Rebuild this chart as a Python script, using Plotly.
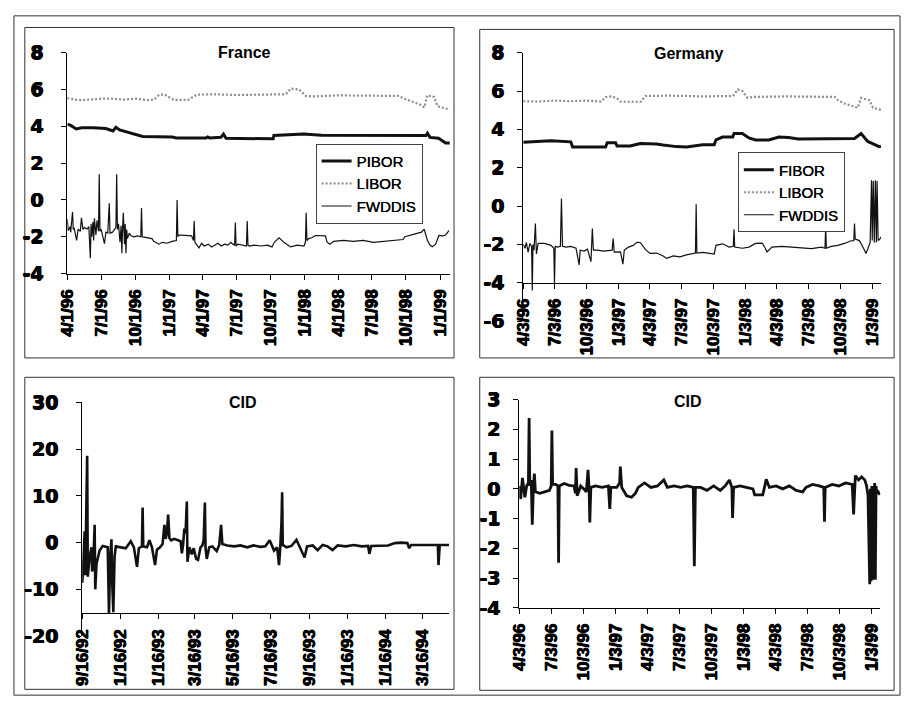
import plotly.graph_objects as go

W, H = 904, 711

# ---------------- tick labels ----------------
france_tickvals = ["1996-04-01", "1996-07-01", "1996-10-01", "1997-01-01", "1997-04-01",
                   "1997-07-01", "1997-10-01", "1998-01-01", "1998-04-01", "1998-07-01",
                   "1998-10-01", "1999-01-01"]
france_ticktext = ["4/1/96", "7/1/96", "10/1/96", "1/1/97", "4/1/97", "7/1/97",
                   "10/1/97", "1/1/98", "4/1/98", "7/1/98", "10/1/98", "1/1/99"]

germany_tickvals = ["1996-04-03", "1996-07-03", "1996-10-03", "1997-01-03", "1997-04-03",
                    "1997-07-03", "1997-10-03", "1998-01-03", "1998-04-03", "1998-07-03",
                    "1998-10-03", "1999-01-03"]
germany_ticktext = ["4/3/96", "7/3/96", "10/3/96", "1/3/97", "4/3/97", "7/3/97",
                    "10/3/97", "1/3/98", "4/3/98", "7/3/98", "10/3/98", "1/3/99"]

cid92_tickvals = ["1992-09-16", "1992-11-16", "1993-01-16", "1993-03-16", "1993-05-16",
                  "1993-07-16", "1993-09-16", "1993-11-16", "1994-01-16", "1994-03-16"]
cid92_ticktext = ["9/16/92", "1/16/92", "1/16/93", "3/16/93", "5/16/93",
                  "7/16/93", "9/16/93", "1/16/93", "1/16/94", "3/16/94"]

# ---------------- France ----------------
france_pibor = [
    ("1996-04-01", 4.12), ("1996-04-10", 4.05), ("1996-04-25", 3.86), ("1996-05-10", 3.92),
    ("1996-06-10", 3.92), ("1996-07-14", 3.88), ("1996-08-02", 3.75), ("1996-08-10", 3.95),
    ("1996-08-20", 3.8), ("1996-09-16", 3.65), ("1996-10-21", 3.45), ("1997-01-09", 3.42),
    ("1997-01-20", 3.37), ("1997-04-10", 3.37), ("1997-04-14", 3.42), ("1997-04-20", 3.37),
    ("1997-05-20", 3.4), ("1997-05-27", 3.58), ("1997-06-03", 3.35), ("1997-10-08", 3.32),
    ("1997-10-10", 3.5), ("1997-12-29", 3.58), ("1998-02-15", 3.52), ("1998-11-24", 3.5),
    ("1998-11-28", 3.62), ("1998-12-05", 3.4), ("1998-12-28", 3.35), ("1999-01-16", 3.1),
    ("1999-01-27", 3.1),
]
france_libor = [
    ("1996-04-01", 5.53), ("1996-05-01", 5.42), ("1996-06-01", 5.45), ("1996-07-01", 5.5),
    ("1996-08-01", 5.5), ("1996-09-01", 5.45), ("1996-10-01", 5.5), ("1996-11-01", 5.42),
    ("1996-11-21", 5.45), ("1996-12-05", 5.72), ("1996-12-20", 5.72), ("1997-01-04", 5.55),
    ("1997-01-13", 5.44), ("1997-02-21", 5.44), ("1997-03-16", 5.72), ("1997-05-01", 5.74),
    ("1997-07-01", 5.7), ("1997-09-01", 5.72), ("1997-11-11", 5.74), ("1997-11-25", 6.05),
    ("1997-12-17", 6.0), ("1998-01-04", 5.65), ("1998-01-21", 5.62), ("1998-04-01", 5.68),
    ("1998-07-01", 5.68), ("1998-09-10", 5.65), ("1998-09-27", 5.5), ("1998-10-24", 5.3),
    ("1998-11-08", 5.18), ("1998-11-20", 5.03), ("1998-11-27", 5.68), ("1998-12-16", 5.6),
    ("1998-12-25", 5.09), ("1999-01-10", 5.0), ("1999-01-27", 4.91),
]
france_fwddis = [
    ("1996-04-01", -1.05), ("1996-04-03", -1.67), ("1996-04-08", -1.45), ("1996-04-10", -1.75),
    ("1996-04-15", -0.65), ("1996-04-17", -1.6), ("1996-04-19", -1.5), ("1996-04-26", -2.2),
    ("1996-04-30", -1.58), ("1996-05-06", -1.7), ("1996-05-09", -0.97), ("1996-05-13", -1.6),
    ("1996-05-17", -1.5), ("1996-05-24", -1.58), ("1996-05-29", -1.45), ("1996-06-02", -3.16),
    ("1996-06-04", -1.3), ("1996-06-06", -2.0), ("1996-06-09", -1.2), ("1996-06-11", -2.2),
    ("1996-06-13", -1.0), ("1996-06-17", -1.9), ("1996-06-20", -1.1), ("1996-06-24", -1.7),
    ("1996-06-26", 1.4), ("1996-06-28", -1.7), ("1996-07-01", -1.6), ("1996-07-05", -1.9),
    ("1996-07-10", -2.37), ("1996-07-14", -1.75), ("1996-07-19", -1.8), ("1996-07-23", -0.18),
    ("1996-07-25", -1.8), ("1996-08-01", -1.75), ("1996-08-06", -1.6), ("1996-08-10", -1.5),
    ("1996-08-12", 1.4), ("1996-08-14", -1.6), ("1996-08-17", -1.3), ("1996-08-21", -2.3),
    ("1996-08-24", -1.4), ("1996-08-26", -2.89), ("1996-08-28", -1.5), ("1996-08-30", -0.7),
    ("1996-09-02", -2.4), ("1996-09-04", -1.3), ("1996-09-06", -2.89), ("1996-09-08", -1.6),
    ("1996-09-10", -2.1), ("1996-09-15", -1.8), ("1996-09-19", -1.93), ("1996-09-28", -2.0),
    ("1996-10-07", -1.95), ("1996-10-16", -2.0), ("1996-10-18", -0.44), ("1996-10-20", -2.0),
    ("1996-10-25", -2.02), ("1996-11-07", -2.05), ("1996-11-15", -2.1), ("1996-11-20", -2.25),
    ("1996-12-04", -2.4), ("1996-12-13", -2.3), ("1996-12-26", -2.35), ("1997-01-08", -2.25),
    ("1997-01-20", -2.2), ("1997-01-22", 0.0), ("1997-01-24", -2.0), ("1997-01-26", -1.9),
    ("1997-02-08", -1.92), ("1997-02-21", -1.9), ("1997-03-02", -1.95), ("1997-03-07", -2.2),
    ("1997-03-09", -1.14), ("1997-03-11", -2.3), ("1997-03-16", -2.45), ("1997-03-22", -2.6),
    ("1997-03-29", -2.35), ("1997-04-05", -2.5), ("1997-04-16", -2.4), ("1997-04-25", -2.55),
    ("1997-05-04", -2.45), ("1997-05-12", -2.35), ("1997-05-21", -2.5), ("1997-05-30", -2.4),
    ("1997-06-08", -2.45), ("1997-06-16", -2.3), ("1997-06-21", -2.4), ("1997-06-26", -2.45),
    ("1997-06-28", -1.23), ("1997-06-30", -2.5), ("1997-07-05", -2.4), ("1997-07-18", -2.45),
    ("1997-07-28", -2.5), ("1997-07-30", -1.14), ("1997-08-01", -2.45), ("1997-08-05", -2.5),
    ("1997-08-18", -2.45), ("1997-09-05", -2.5), ("1997-09-23", -2.45), ("1997-10-05", -2.55),
    ("1997-10-11", -2.3), ("1997-10-24", -2.05), ("1997-11-06", -2.3), ("1997-11-24", -2.55),
    ("1997-12-12", -2.45), ("1997-12-30", -2.5), ("1998-01-03", -2.3), ("1998-01-05", -0.7),
    ("1998-01-07", -2.2), ("1998-01-12", -2.1), ("1998-01-20", -2.05), ("1998-01-30", -1.93),
    ("1998-02-26", -1.95), ("1998-03-02", -2.28), ("1998-03-10", -2.4), ("1998-03-20", -2.25),
    ("1998-04-16", -2.2), ("1998-05-12", -2.25), ("1998-06-08", -2.2), ("1998-07-05", -2.3),
    ("1998-07-31", -2.25), ("1998-08-27", -2.2), ("1998-09-23", -2.15), ("1998-09-28", -2.0),
    ("1998-10-06", -1.95), ("1998-10-19", -1.9), ("1998-11-01", -1.8), ("1998-11-12", -1.75),
    ("1998-11-19", -1.58), ("1998-11-24", -1.9), ("1998-11-28", -2.2), ("1998-12-05", -2.45),
    ("1998-12-11", -2.54), ("1998-12-20", -2.4), ("1998-12-29", -1.93), ("1999-01-08", -1.95),
    ("1999-01-16", -1.9), ("1999-01-25", -1.67),
]

# ---------------- Germany ----------------
germany_fibor = [
    ("1996-04-03", 3.33), ("1996-06-22", 3.4), ("1996-08-18", 3.35), ("1996-08-23", 3.08),
    ("1996-11-26", 3.08), ("1996-12-01", 3.3), ("1996-12-25", 3.3), ("1996-12-29", 3.13),
    ("1997-02-05", 3.13), ("1997-03-06", 3.26), ("1997-04-22", 3.24), ("1997-05-11", 3.18),
    ("1997-06-18", 3.1), ("1997-07-17", 3.08), ("1997-09-02", 3.2), ("1997-10-05", 3.2),
    ("1997-10-10", 3.45), ("1997-10-29", 3.6), ("1997-11-27", 3.6), ("1997-12-01", 3.78),
    ("1997-12-25", 3.78), ("1998-01-13", 3.55), ("1998-02-01", 3.45), ("1998-03-11", 3.45),
    ("1998-04-09", 3.6), ("1998-05-07", 3.58), ("1998-06-04", 3.5), ("1998-11-13", 3.52),
    ("1998-12-02", 3.78), ("1998-12-21", 3.37), ("1999-01-04", 3.26), ("1999-01-23", 3.1),
    ("1999-01-28", 3.12),
]
germany_libor = [
    ("1996-04-03", 5.47), ("1996-05-15", 5.45), ("1996-07-01", 5.5), ("1996-08-15", 5.47),
    ("1996-10-01", 5.5), ("1996-11-13", 5.45), ("1996-11-27", 5.69), ("1996-12-15", 5.72),
    ("1996-12-30", 5.6), ("1997-01-09", 5.44), ("1997-03-07", 5.44), ("1997-03-21", 5.74),
    ("1997-06-01", 5.76), ("1997-09-01", 5.72), ("1997-11-28", 5.74), ("1997-12-12", 6.08),
    ("1997-12-25", 6.0), ("1998-01-09", 5.64), ("1998-01-23", 5.69), ("1998-05-01", 5.72),
    ("1998-09-17", 5.69), ("1998-09-26", 5.52), ("1998-10-15", 5.35), ("1998-11-22", 5.13),
    ("1998-12-02", 5.64), ("1998-12-26", 5.52), ("1999-01-05", 5.13), ("1999-01-29", 5.01),
]
germany_fwddis = [
    ("1996-04-03", -2.0), ("1996-04-08", -2.2), ("1996-04-12", -1.9), ("1996-04-17", -2.4),
    ("1996-04-22", -1.95), ("1996-04-27", -2.1), ("1996-04-29", -4.4), ("1996-05-01", -2.0),
    ("1996-05-04", -2.3), ("1996-05-08", -0.91), ("1996-05-11", -2.5), ("1996-05-16", -1.95),
    ("1996-06-03", -1.95), ("1996-06-22", -2.05), ("1996-06-30", -2.2), ("1996-07-02", -4.04),
    ("1996-07-04", -2.1), ("1996-07-11", -2.14), ("1996-07-19", -2.1), ("1996-07-22", 0.39),
    ("1996-07-25", -2.1), ("1996-08-04", -2.14), ("1996-08-18", -2.1), ("1996-09-02", -2.2),
    ("1996-09-11", -3.07), ("1996-09-14", -2.3), ("1996-09-25", -2.35), ("1996-10-05", -2.25),
    ("1996-10-15", -2.9), ("1996-10-19", -1.17), ("1996-10-22", -2.3), ("1996-11-02", -2.3),
    ("1996-11-21", -2.35), ("1996-12-15", -2.3), ("1996-12-18", -1.69), ("1996-12-21", -2.4),
    ("1997-01-08", -2.39), ("1997-01-15", -3.03), ("1997-01-19", -2.3), ("1997-01-31", -2.14),
    ("1997-02-14", -2.05), ("1997-02-24", -1.89), ("1997-03-06", -1.9), ("1997-03-20", -2.25),
    ("1997-04-03", -2.47), ("1997-04-22", -2.45), ("1997-05-11", -2.6), ("1997-05-21", -2.73),
    ("1997-06-09", -2.6), ("1997-06-28", -2.65), ("1997-07-17", -2.55), ("1997-08-05", -2.5),
    ("1997-08-12", -2.45), ("1997-08-14", 0.10), ("1997-08-16", -2.45), ("1997-09-02", -2.42),
    ("1997-09-21", -2.45), ("1997-10-05", -2.5), ("1997-10-10", -2.05), ("1997-10-29", -1.97),
    ("1997-11-17", -2.14), ("1997-11-29", -2.1), ("1997-12-01", -1.21), ("1997-12-03", -2.14),
    ("1997-12-25", -2.2), ("1998-01-13", -2.14), ("1998-02-01", -1.95), ("1998-02-20", -1.93),
    ("1998-03-01", -2.2), ("1998-03-06", -2.39), ("1998-03-20", -2.14), ("1998-04-18", -2.1),
    ("1998-05-16", -2.14), ("1998-06-14", -2.2), ("1998-07-12", -2.22), ("1998-08-10", -2.14),
    ("1998-08-20", -2.2), ("1998-08-22", -1.07), ("1998-08-24", -2.2), ("1998-09-07", -2.1),
    ("1998-09-26", -2.05), ("1998-10-15", -1.95), ("1998-11-03", -1.81), ("1998-11-11", -1.8),
    ("1998-11-13", -0.91), ("1998-11-15", -1.72), ("1998-11-27", -1.8), ("1998-12-09", -2.2),
    ("1998-12-16", -2.47), ("1998-12-22", -2.2), ("1998-12-28", -1.9), ("1999-01-01", 1.34),
    ("1999-01-03", -1.8), ("1999-01-06", 1.3), ("1999-01-09", -1.9), ("1999-01-12", 1.34),
    ("1999-01-15", -1.9), ("1999-01-17", 1.3), ("1999-01-20", -1.8), ("1999-01-24", -1.75),
    ("1999-01-29", -1.6),
]

# ---------------- CID 1992-94 ----------------
cid_1992 = [
    ("1992-09-16", -8.6), ("1992-09-17", -6.9), ("1992-09-20", 2.4), ("1992-09-21", -7.0),
    ("1992-09-24", 18.6), ("1992-09-25", -7.3), ("1992-09-28", -3.0), ("1992-10-01", -1.0),
    ("1992-10-02", -6.2), ("1992-10-04", -4.0), ("1992-10-06", 3.8), ("1992-10-07", -10.0),
    ("1992-10-09", -4.5), ("1992-10-11", -3.1), ("1992-10-14", -1.7), ("1992-10-19", -0.7),
    ("1992-10-24", -0.8), ("1992-10-27", -1.0), ("1992-10-29", -15.2), ("1992-10-31", -3.0),
    ("1992-11-02", 0.7), ("1992-11-03", -8.0), ("1992-11-05", -14.9), ("1992-11-07", -3.0),
    ("1992-11-09", -0.8), ("1992-11-17", -1.0), ("1992-11-25", -1.2), ("1992-12-03", 0.3),
    ("1992-12-08", -1.0), ("1992-12-13", -5.2), ("1992-12-16", -1.2), ("1992-12-21", -0.8),
    ("1992-12-22", 7.5), ("1992-12-23", -0.8), ("1992-12-29", -1.0), ("1993-01-02", 0.5),
    ("1993-01-06", -1.0), ("1993-01-11", -4.8), ("1993-01-14", -1.5), ("1993-01-19", -1.0),
    ("1993-01-23", -0.3), ("1993-01-26", 3.8), ("1993-01-28", 0.8), ("1993-01-30", 2.0),
    ("1993-02-01", 6.0), ("1993-02-03", 1.0), ("1993-02-06", 0.5), ("1993-02-11", 0.8),
    ("1993-02-16", 0.6), ("1993-02-21", 0.3), ("1993-02-23", -2.3), ("1993-02-25", -0.5),
    ("1993-02-27", 3.0), ("1993-03-01", 2.0), ("1993-03-03", 8.8), ("1993-03-04", -4.1),
    ("1993-03-07", -1.0), ("1993-03-11", -2.5), ("1993-03-14", -1.2), ("1993-03-18", -3.5),
    ("1993-03-21", -3.7), ("1993-03-25", -1.0), ("1993-03-28", -0.6), ("1993-03-30", 0.5),
    ("1993-04-01", 8.6), ("1993-04-02", -1.0), ("1993-04-04", -3.5), ("1993-04-08", -1.0),
    ("1993-04-13", -0.8), ("1993-04-20", -1.8), ("1993-04-24", -0.5), ("1993-04-27", 3.8),
    ("1993-04-29", -0.3), ("1993-05-07", -0.6), ("1993-05-18", -0.8), ("1993-05-28", -0.6),
    ("1993-06-08", -1.0), ("1993-06-18", -0.6), ("1993-06-29", -0.9), ("1993-07-07", -0.8),
    ("1993-07-14", 0.5), ("1993-07-18", -1.0), ("1993-07-21", -1.7), ("1993-07-26", -1.0),
    ("1993-07-29", -4.8), ("1993-07-31", -1.0), ("1993-08-02", 4.5), ("1993-08-03", 10.8),
    ("1993-08-04", -0.5), ("1993-08-10", -1.0), ("1993-08-18", -0.7), ("1993-08-26", 0.6),
    ("1993-08-31", -1.0), ("1993-09-08", -3.2), ("1993-09-12", -0.8), ("1993-09-21", -0.6),
    ("1993-09-29", -1.6), ("1993-10-07", -0.5), ("1993-10-15", -0.8), ("1993-10-23", -1.6),
    ("1993-10-31", -0.6), ("1993-11-13", -0.8), ("1993-11-26", -0.5), ("1993-12-09", -0.8),
    ("1993-12-19", -0.7), ("1993-12-21", -2.4), ("1993-12-24", -0.7), ("1994-01-04", -0.6),
    ("1994-01-20", -0.6), ("1994-01-31", -0.1), ("1994-02-10", 0.0), ("1994-02-20", -0.1),
    ("1994-02-23", -1.2), ("1994-02-26", -0.5), ("1994-03-14", -0.5), ("1994-03-30", -0.4),
    ("1994-04-10", -0.5), ("1994-04-11", -4.8), ("1994-04-13", -0.5), ("1994-04-28", -0.5),
]

# ---------------- CID 1996-99 ----------------
cid_1996 = [
    ("1996-04-03", 0.1), ("1996-04-07", -0.34), ("1996-04-12", 0.37), ("1996-04-19", -0.28),
    ("1996-04-24", 0.1), ("1996-04-29", 0.2), ("1996-05-01", 2.38), ("1996-05-03", 0.1),
    ("1996-05-07", 0.3), ("1996-05-10", -1.2), ("1996-05-13", 0.0), ("1996-05-16", 0.51),
    ("1996-05-19", -0.1), ("1996-05-31", -0.15), ("1996-06-14", -0.1), ("1996-06-28", -0.05),
    ("1996-07-03", 0.1), ("1996-07-05", 1.96), ("1996-07-07", 0.15), ("1996-07-16", 0.15),
    ("1996-07-22", 0.1), ("1996-07-24", -2.48), ("1996-07-26", 0.1), ("1996-08-09", 0.18),
    ("1996-08-23", 0.12), ("1996-09-06", 0.1), ("1996-09-10", -0.15), ("1996-09-12", 0.70),
    ("1996-09-15", -0.23), ("1996-09-25", 0.1), ("1996-10-04", 0.0), ("1996-10-11", -0.1),
    ("1996-10-16", 0.64), ("1996-10-19", 0.0), ("1996-10-21", -1.13), ("1996-10-24", 0.05),
    ("1996-11-06", 0.1), ("1996-11-25", 0.05), ("1996-12-13", 0.1), ("1996-12-17", -0.67),
    ("1996-12-20", 0.05), ("1997-01-06", 0.05), ("1997-01-14", 0.2), ("1997-01-16", 0.75),
    ("1997-01-20", 0.05), ("1997-02-03", -0.23), ("1997-02-17", -0.28), ("1997-02-28", -0.15),
    ("1997-03-08", 0.05), ("1997-03-26", 0.2), ("1997-04-13", 0.05), ("1997-05-02", 0.1),
    ("1997-05-20", 0.3), ("1997-05-30", 0.05), ("1997-06-18", 0.1), ("1997-07-07", 0.05),
    ("1997-07-26", 0.1), ("1997-08-12", 0.05), ("1997-08-15", -2.6), ("1997-08-18", 0.05),
    ("1997-09-02", 0.05), ("1997-09-20", -0.05), ("1997-10-09", 0.1), ("1997-10-28", -0.05),
    ("1997-11-11", 0.1), ("1997-11-23", 0.3), ("1997-11-30", 0.05), ("1997-12-02", -0.98),
    ("1997-12-05", 0.05), ("1997-12-23", 0.1), ("1998-01-10", 0.05), ("1998-01-29", 0.0),
    ("1998-02-03", -0.2), ("1998-02-26", -0.2), ("1998-03-03", 0.05), ("1998-03-08", 0.32),
    ("1998-03-17", 0.05), ("1998-04-05", 0.1), ("1998-04-24", 0.0), ("1998-05-13", 0.1),
    ("1998-06-01", -0.05), ("1998-06-20", -0.1), ("1998-06-29", 0.05), ("1998-07-18", 0.15),
    ("1998-08-06", 0.1), ("1998-08-19", 0.05), ("1998-08-21", -1.1), ("1998-08-23", 0.05),
    ("1998-09-12", 0.15), ("1998-10-01", 0.1), ("1998-10-20", 0.2), ("1998-11-08", 0.15),
    ("1998-11-12", -0.86), ("1998-11-17", 0.45), ("1998-11-26", 0.3), ("1998-12-05", 0.4),
    ("1998-12-14", 0.3), ("1998-12-19", 0.1), ("1998-12-23", -0.2), ("1998-12-26", -2.9),
    ("1998-12-28", -3.2), ("1998-12-30", 0.0), ("1999-01-01", -3.1), ("1999-01-03", 0.1),
    ("1999-01-05", -3.05), ("1999-01-07", -0.1), ("1999-01-09", -3.0), ("1999-01-11", 0.2),
    ("1999-01-13", -3.05), ("1999-01-15", 0.1), ("1999-01-17", -0.15), ("1999-01-21", -0.1),
    ("1999-01-26", -0.2),
]


def unzip(pairs):
    return [p[0] for p in pairs], [p[1] for p in pairs]


def px(x):
    return x / W


def py(y):
    return 1 - y / H


BLACK = "#111111"
fig = go.Figure()

# France
x, y = unzip(france_pibor)
fig.add_trace(go.Scatter(x=x, y=y, name="PIBOR", mode="lines", line=dict(color=BLACK, width=3),
                         xaxis="x", yaxis="y", legend="legend"))
x, y = unzip(france_libor)
fig.add_trace(go.Scatter(x=x, y=y, name="LIBOR", mode="lines",
                         line=dict(color="#8c8c8c", width=2.2, dash="2px,2px"),
                         xaxis="x", yaxis="y", legend="legend"))
x, y = unzip(france_fwddis)
fig.add_trace(go.Scatter(x=x, y=y, name="FWDDIS", mode="lines", line=dict(color=BLACK, width=1.2),
                         xaxis="x", yaxis="y", legend="legend"))

# Germany
x, y = unzip(germany_fibor)
fig.add_trace(go.Scatter(x=x, y=y, name="FIBOR", mode="lines", line=dict(color=BLACK, width=3),
                         xaxis="x2", yaxis="y2", legend="legend2"))
x, y = unzip(germany_libor)
fig.add_trace(go.Scatter(x=x, y=y, name="LIBOR", mode="lines",
                         line=dict(color="#8c8c8c", width=2.2, dash="2px,2px"),
                         xaxis="x2", yaxis="y2", legend="legend2"))
x, y = unzip(germany_fwddis)
fig.add_trace(go.Scatter(x=x, y=y, name="FWDDIS", mode="lines", line=dict(color=BLACK, width=1.2),
                         xaxis="x2", yaxis="y2", legend="legend2"))

# CID panels
x, y = unzip(cid_1992)
fig.add_trace(go.Scatter(x=x, y=y, name="CID", mode="lines", line=dict(color=BLACK, width=2.6),
                         xaxis="x3", yaxis="y3", showlegend=False))
x, y = unzip(cid_1996)
fig.add_trace(go.Scatter(x=x, y=y, name="CID", mode="lines", line=dict(color=BLACK, width=2.8),
                         xaxis="x4", yaxis="y4", showlegend=False))

HEAVY = "0.6px 0 0 black, -0.4px 0 0 black, 0 0.4px 0 black"
XFONT = dict(family="Liberation Sans, Arial, sans-serif", size=17, color="black", weight="bold",
             shadow=HEAVY)
YFONT = dict(family="DejaVu Sans, sans-serif", size=19, color="black", weight="bold",
             shadow=HEAVY)


def xaxis(x0, x1, rng, tv, tt, **kw):
    d = dict(type="date", domain=[px(x0), px(x1)], range=rng, tickmode="array",
             tickvals=tv, ticktext=tt, tickangle=-90, tickfont=XFONT, showline=True,
             linecolor="black", linewidth=1, ticks="outside", ticklen=5, tickcolor="black",
             showgrid=False, zeroline=False, ticklabelstandoff=3, fixedrange=True)
    d.update(kw)
    return d


def yaxis(y_top, y_bot, rng, tv, standoff, **kw):
    d = dict(domain=[py(y_bot), py(y_top)], range=rng, tickmode="array", tickvals=tv,
             ticktext=[str(v) for v in tv], tickfont=YFONT, showline=True, linecolor="black",
             linewidth=1, ticks="outside", ticklen=5, tickcolor="black", showgrid=False,
             zeroline=False, ticklabelstandoff=standoff, fixedrange=True)
    d.update(kw)
    return d


LFONT = dict(family="Liberation Sans, Arial, sans-serif", size=15, color="black",
             shadow="0.3px 0 0 black")

fig.update_layout(
    width=W, height=H, margin=dict(l=0, r=0, t=0, b=0),
    paper_bgcolor="white", plot_bgcolor="rgba(0,0,0,0)",
    xaxis=xaxis(59, 446, ["1996-04-01", "1999-01-28"], france_tickvals, france_ticktext, anchor="y"),
    yaxis=yaxis(43, 271, [-4, 8], [-4, -2, 0, 2, 4, 6, 8], 14, anchor="x"),
    xaxis2=xaxis(520, 882, ["1996-04-03", "1999-01-29"], germany_tickvals, germany_ticktext,
                 anchor="free", position=py(280.6)),
    yaxis2=yaxis(43, 320, [-6, 8], [-6, -4, -2, 0, 2, 4, 6, 8], 9, anchor="x2"),
    xaxis3=xaxis(74, 445, ["1992-09-16", "1994-04-28"], cid92_tickvals, cid92_ticktext,
                 anchor="free", position=py(621.7)),
    yaxis3=yaxis(404, 645, [-20, 30], [-20, -10, 0, 10, 20, 30], 14, anchor="x3"),
    xaxis4=xaxis(516, 881, ["1996-04-03", "1999-01-27"], germany_tickvals, germany_ticktext,
                 anchor="y4"),
    yaxis4=yaxis(401, 616, [-4, 3], [-4, -3, -2, -1, 0, 1, 2, 3], 9, anchor="x4"),
    legend=dict(x=px(310), y=py(137), xanchor="left", yanchor="top", bgcolor="white",
                bordercolor="#444", borderwidth=1, tracegroupgap=0, font=LFONT),
    legend2=dict(x=px(737), y=py(146), xanchor="left", yanchor="top", bgcolor="white",
                 bordercolor="#444", borderwidth=1, tracegroupgap=0, font=LFONT),
)

TFONT = dict(family="Liberation Sans, Arial, sans-serif", size=16, color="black", weight="bold")
for text, cx, cy in [("France", 238, 43), ("Germany", 687, 44), ("CID", 237, 404), ("CID", 687, 403)]:
    fig.add_annotation(text=text, x=px(cx), y=py(cy), xref="paper", yref="paper",
                       xanchor="center", yanchor="middle", showarrow=False, font=TFONT)

# frames
frames = [(5, 5, 901, 706), (16, 17, 450, 358), (476, 19, 895, 358),
          (16, 378, 450, 700), (476, 378, 895, 701)]
for x0, y0, x1, y1 in frames:
    fig.add_shape(type="rect", xref="paper", yref="paper", x0=px(x0), x1=px(x1),
                  y0=py(y1), y1=py(y0), line=dict(color="#333", width=1), layer="below")

fig.write_html("out.html")
